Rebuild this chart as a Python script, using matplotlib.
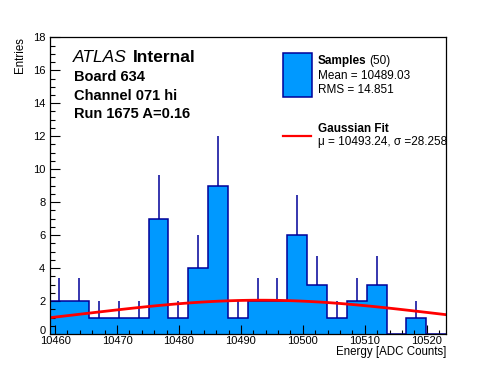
import matplotlib as mpl
mpl.use("Agg")
import matplotlib.pyplot as plt
import matplotlib.transforms as mtrans
import numpy as np
from matplotlib.ticker import MultipleLocator

plt.rcParams['font.family'] = ['Liberation Sans', 'DejaVu Sans']

# histogram: 20 bins
counts = [2, 2, 1, 1, 1, 7, 1, 4, 9, 1, 2, 2, 6, 3, 1, 2, 3, 0, 1, 0]
hist_lo = 10459.1
hist_hi = 10523.1

# gaussian fit parameters
fit_mu = 10493.24
fit_sigma = 28.258
fit_amp = 2.05

n_samples = 50
mean = 10489.03
rms = 14.851

blue = '#0099ff'
navy = '#000099'

W, H = 496, 372
fig = plt.figure(figsize=(W / 100, H / 100), dpi=100)
ax = fig.add_axes([49.5 / W, 1 - 334 / H, 396.5 / W, 296.7 / H])

counts = np.array(counts)
edges = np.linspace(hist_lo, hist_hi, len(counts) + 1)
centers = 0.5 * (edges[:-1] + edges[1:])

ax.stairs(counts, edges, fill=True, color=blue, zorder=1)
ax.stairs(counts, edges, color=navy, linewidth=1.1, zorder=2)
nz = counts > 0
ax.vlines(centers[nz], counts[nz], counts[nz] + np.sqrt(counts[nz]),
          color=navy, linewidth=1.1, zorder=2)

xf = np.linspace(hist_lo, hist_hi, 100)
yf = fit_amp * np.exp(-0.5 * ((xf - fit_mu) / fit_sigma) ** 2)
ax.plot(xf, yf, color='red', linewidth=2.0, zorder=3)

ax.set_xlim(hist_lo, hist_hi)
ax.set_ylim(0, 18)
ax.xaxis.set_major_locator(MultipleLocator(10))
ax.xaxis.set_minor_locator(MultipleLocator(2))
ax.yaxis.set_major_locator(MultipleLocator(2))
ax.yaxis.set_minor_locator(MultipleLocator(0.5))
ax.tick_params(which='both', direction='in', top=False, right=False,
               labelsize=8, width=0.8, zorder=5)
ax.tick_params(axis='x', which='major', length=6.5, pad=1.5)
ax.tick_params(axis='x', which='minor', length=3.2)
ax.tick_params(axis='y', which='major', length=7, pad=3)
ax.tick_params(axis='y', which='minor', length=3.5)
for s in ax.spines.values():
    s.set_linewidth(0.9)
    s.set_zorder(6)

fig.text(446 / W, 1 - 351.5 / H, 'Energy [ADC Counts]', ha='right', va='center', fontsize=8.3)
fig.text(20 / W, 1 - 37 / H, 'Entries', ha='center', va='top', rotation=90, fontsize=8.3)

def px(x, y):
    return x / W, 1 - y / H

fig.text(*px(73, 57), 'ATLAS', style='italic', fontsize=12.5, va='center')
fig.text(*px(133, 57), 'Internal', weight='bold', fontsize=12.5, va='center')
fig.text(*px(74, 77), 'Board 634', weight='bold', fontsize=10.5, va='center')
fig.text(*px(74, 96), 'Channel 071 hi', weight='bold', fontsize=10.5, va='center')
fig.text(*px(74, 114), 'Run 1675 A=0.16', weight='bold', fontsize=10.5, va='center')

# legend
fig.patches.append(plt.Rectangle(px(283.3, 96.7), 28.4 / W, 43.4 / H,
                                 transform=fig.transFigure, facecolor=blue,
                                 edgecolor=navy, linewidth=1.1))
fig.add_artist(plt.Line2D([283 / W, 311 / W], [1 - 135.7 / H] * 2,
                          color='red', linewidth=1.6))
t = fig.text(*px(317.7, 61), 'Samples', weight='bold', fontsize=8.5, va='center')
fig.canvas.draw()
bb = t.get_window_extent()
fig.text((bb.x1 + 2.5) / W, 1 - 61 / H, '(%d)' % n_samples, fontsize=8.5, va='center')
fig.text(*px(317.7, 76), 'Mean = %.2f' % mean, fontsize=8.5, va='center')
fig.text(*px(317.7, 90), 'RMS = %.3f' % rms, fontsize=8.5, va='center')
fig.text(*px(317.7, 129.5), 'Gaussian Fit', weight='bold', fontsize=8.5, va='center')
fig.text(*px(317.7, 141.5), 'μ = %.2f, σ =%.3f' % (fit_mu, fit_sigma),
         fontsize=8.5, va='center')

# lift the "0" label a little so it clears 10460
lift = mtrans.ScaledTranslation(0, 3.5 / 100, fig.dpi_scale_trans)
for tk in ax.yaxis.get_major_ticks():
    if abs(tk.get_loc()) < 1e-9:
        tk.label1.set_transform(tk.label1.get_transform() + lift)

fig.savefig('out.png', dpi=100)
